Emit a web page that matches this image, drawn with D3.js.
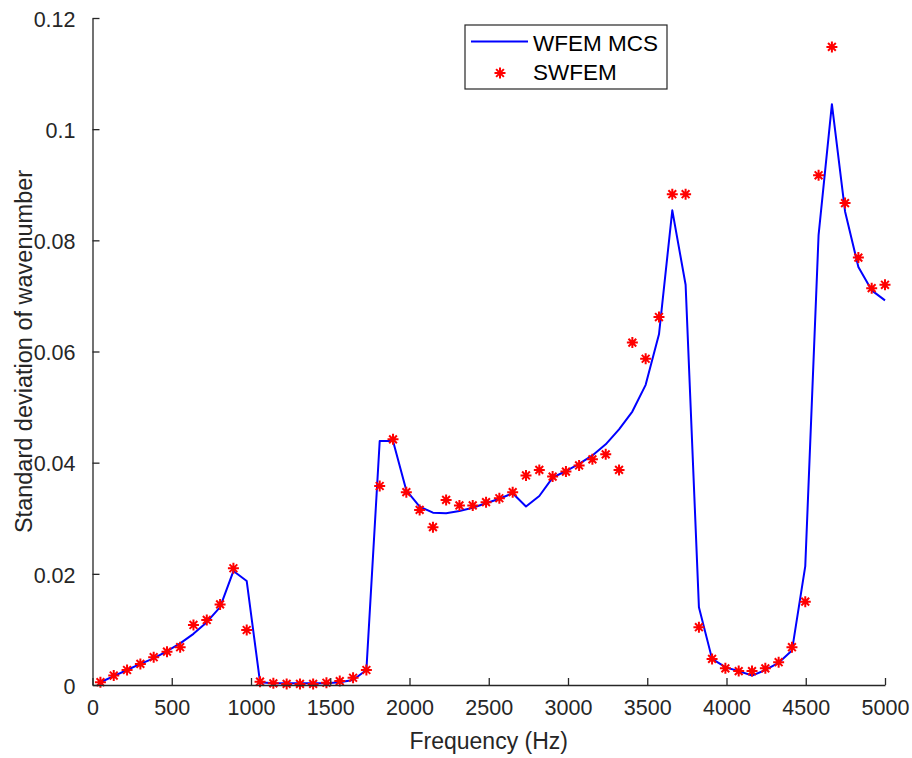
<!DOCTYPE html>
<html>
<head>
<meta charset="utf-8">
<script src="https://cdn.jsdelivr.net/npm/d3@7"></script>
<style>
  html, body { margin: 0; padding: 0; background: #fff; }
  svg { display: block; font-family: "Liberation Sans", Arial, Helvetica, sans-serif; }
</style>
</head>
<body>
<svg id="chart" width="912" height="758"></svg>
<script>
// ---- Data ----
const frequency = [50, 134, 218, 302, 386, 470, 553, 637, 721, 805,
  889, 973, 1057, 1141, 1225, 1309, 1392, 1476, 1560, 1644,
  1728, 1812, 1896, 1980, 2064, 2148, 2231, 2315, 2399, 2483,
  2567, 2651, 2735, 2819, 2903, 2987, 3070, 3154, 3238, 3322,
  3406, 3490, 3574, 3658, 3742, 3826, 3909, 3993, 4077, 4161,
  4245, 4329, 4413, 4497, 4581, 4665, 4748, 4832, 4916, 5000];

const wfemMCS = [0.0005, 0.0016, 0.0027, 0.0038, 0.0048, 0.0061, 0.0075, 0.0092, 0.0113, 0.0140,
  0.0205, 0.0187, 0.0005, 0.0003, 0.0003, 0.0003, 0.0003, 0.0003, 0.0005, 0.0009,
  0.0027, 0.0439, 0.0439, 0.0350, 0.0321, 0.0310, 0.0309, 0.0313, 0.0319, 0.0327,
  0.0335, 0.0345, 0.0321, 0.0340, 0.0373, 0.0385, 0.0398, 0.0413, 0.0433, 0.0460,
  0.0492, 0.0540, 0.0631, 0.0854, 0.0720, 0.0140, 0.0047, 0.0032, 0.0025, 0.0017,
  0.0027, 0.0040, 0.0062, 0.0214, 0.0810, 0.1045, 0.0852, 0.0752, 0.0710, 0.0692];

const swfem = [0.0005, 0.0017, 0.0027, 0.0038, 0.0050, 0.0060, 0.0068, 0.0108, 0.0117, 0.0145,
  0.0210, 0.0099, 0.0006, 0.0003, 0.0002, 0.0002, 0.0002, 0.0004, 0.0007, 0.0013,
  0.0027, 0.0358, 0.0442, 0.0347, 0.0315, 0.0284, 0.0333, 0.0323, 0.0323, 0.0329,
  0.0336, 0.0347, 0.0377, 0.0387, 0.0375, 0.0384, 0.0395, 0.0406, 0.0415, 0.0387,
  0.0616, 0.0587, 0.0662, 0.0883, 0.0883, 0.0104, 0.0047, 0.0030, 0.0025, 0.0025,
  0.0030, 0.0041, 0.0068, 0.0150, 0.0917, 0.1148, 0.0867, 0.0769, 0.0714, 0.0720];

const xTicks = [0, 500, 1000, 1500, 2000, 2500, 3000, 3500, 4000, 4500, 5000];
const yTicks = [0, 0.02, 0.04, 0.06, 0.08, 0.1, 0.12];
const yTickLabels = ["0", "0.02", "0.04", "0.06", "0.08", "0.1", "0.12"];
const seriesNames = ["WFEM MCS", "SWFEM"];
const xLabel = "Frequency (Hz)";
const yLabel = "Standard deviation of wavenumber";

// ---- Layout ----
const svg = d3.select("#chart");
const plotLeft = 92.5, plotRight = 885, plotTop = 18, plotBottom = 685;
const axisColor = "#262626";

const x = d3.scaleLinear().domain([0, 5000]).range([plotLeft, plotRight]);
const y = d3.scaleLinear().domain([0, 0.12]).range([plotBottom, plotTop]);

// ---- Series ----
const line = d3.line().x((d, i) => x(frequency[i])).y(d => y(d));
svg.append("path")
  .datum(wfemMCS)
  .attr("d", line)
  .attr("fill", "none")
  .attr("stroke", "#0000ff")
  .attr("stroke-width", 2)
  .attr("stroke-linejoin", "round");

function asterisk(g, r) {
  const a = r * Math.SQRT1_2;
  g.append("path")
    .attr("d", `M${-r},0L${r},0M0,${-r}L0,${r}M${-a},${-a}L${a},${a}M${-a},${a}L${a},${-a}`)
    .attr("stroke", "#ff0000")
    .attr("stroke-width", 2)
    .attr("fill", "none");
}

const markers = svg.append("g");
swfem.forEach((v, i) => {
  const g = markers.append("g").attr("transform", `translate(${x(frequency[i])},${y(v)})`);
  asterisk(g, 5.5);
});

// ---- Axes ----
const xAxis = d3.axisBottom(x).tickValues(xTicks).tickSizeInner(-7).tickSizeOuter(0).tickPadding(15).tickFormat(d3.format("d"));
const gx = svg.append("g").attr("transform", `translate(0,${plotBottom})`).call(xAxis);
gx.select(".domain").attr("stroke", axisColor).attr("stroke-width", 1.3);
gx.selectAll(".tick line").attr("stroke", axisColor).attr("stroke-width", 1.3);
gx.selectAll(".tick text")
  .attr("fill", axisColor)
  .attr("font-size", 21.5)
  .attr("font-family", "Liberation Sans, Arial, sans-serif");

const yAxis = d3.axisLeft(y).tickValues(yTicks).tickSizeInner(-7).tickSizeOuter(0).tickPadding(17)
  .tickFormat((d, i) => yTickLabels[i]);
const gy = svg.append("g").attr("transform", `translate(${plotLeft},0)`).call(yAxis);
gy.select(".domain").attr("stroke", axisColor).attr("stroke-width", 1.3);
gy.selectAll(".tick line").attr("stroke", axisColor).attr("stroke-width", 1.3);
gy.selectAll(".tick text")
  .attr("fill", axisColor)
  .attr("font-size", 21.5)
  .attr("dy", "0.38em")
  .attr("font-family", "Liberation Sans, Arial, sans-serif");

// ---- Axis labels ----
svg.append("text")
  .attr("x", (plotLeft + plotRight) / 2)
  .attr("y", 749)
  .attr("text-anchor", "middle")
  .attr("font-size", 23)
  .attr("fill", axisColor)
  .text(xLabel);

svg.append("text")
  .attr("transform", `translate(32,${(plotTop + plotBottom) / 2}) rotate(-90)`)
  .attr("text-anchor", "middle")
  .attr("font-size", 23.5)
  .attr("fill", axisColor)
  .text(yLabel);

// ---- Legend ----
const leg = svg.append("g");
leg.append("rect")
  .attr("x", 465).attr("y", 25).attr("width", 202).attr("height", 64)
  .attr("fill", "#fff").attr("stroke", axisColor).attr("stroke-width", 1.2);
leg.append("line")
  .attr("x1", 471).attr("x2", 528).attr("y1", 41.5).attr("y2", 41.5)
  .attr("stroke", "#0000ff").attr("stroke-width", 2);
leg.append("text").attr("x", 533).attr("y", 51).attr("font-size", 22.5).attr("fill", "#000").text(seriesNames[0]);
asterisk(leg.append("g").attr("transform", "translate(500,73)"), 5.5);
leg.append("text").attr("x", 533).attr("y", 80).attr("font-size", 22.5).attr("fill", "#000").text(seriesNames[1]);
</script>
</body>
</html>
